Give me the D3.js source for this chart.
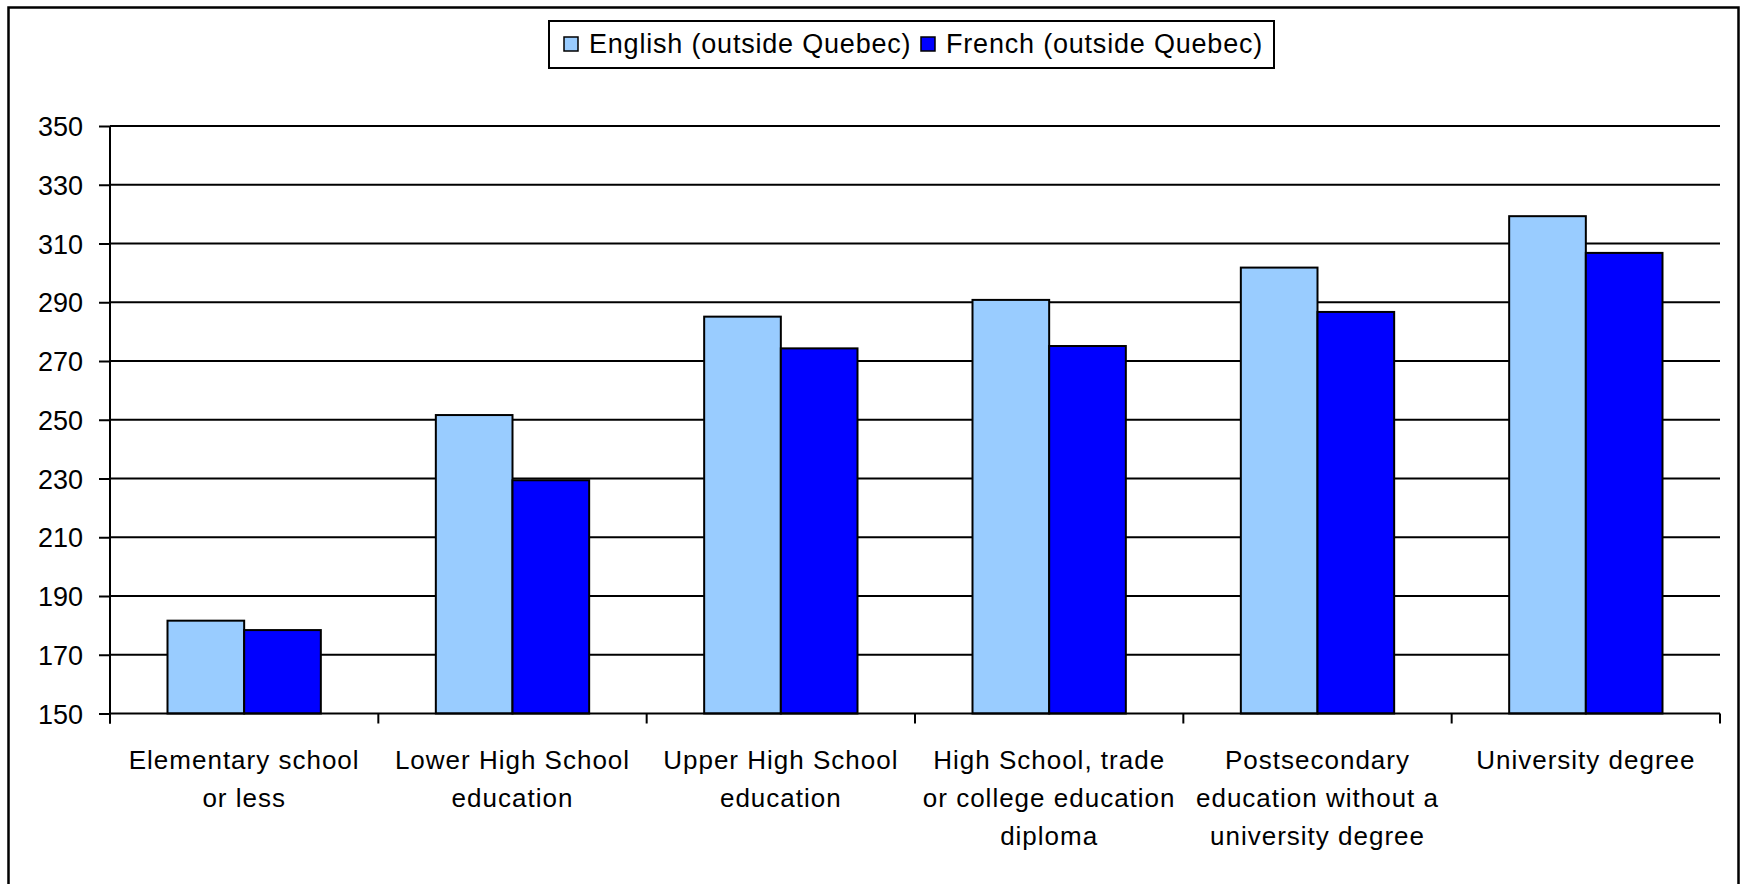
<!DOCTYPE html>
<html>
<head>
<meta charset="utf-8">
<script src="https://cdn.jsdelivr.net/npm/d3@7"></script>
<style>
  html, body { margin: 0; padding: 0; background: #fff; }
  svg { display: block; }
  text { font-family: "Liberation Sans", Arial, sans-serif; fill: #000; }
</style>
</head>
<body>
<svg id="chart" width="1740" height="884"></svg>
<script>
// Education levels (line breaks mark where the axis label wraps)
const categories = [
  "Elementary school\nor less",
  "Lower High School\neducation",
  "Upper High School\neducation",
  "High School, trade\nor college education\ndiploma",
  "Postsecondary\neducation without a\nuniversity degree",
  "University degree"
];
const seriesNames = ["English (outside Quebec)", "French (outside Quebec)"];
const englishValues = [181.6, 251.6, 285.1, 290.8, 301.8, 319.3];
const frenchValues  = [178.4, 229.4, 274.3, 275.1, 286.7, 306.8];
const seriesColors = ["#99CCFF", "#0000FF"];
const yTicks = [150, 170, 190, 210, 230, 250, 270, 290, 310, 330, 350];

const svg = d3.select("#chart");
const W = 1740, H = 884;
const plot = { left: 110, right: 1720, top: 126, bottom: 713.5 };

svg.append("rect").attr("width", W).attr("height", H).attr("fill", "#fff");

// outer chart frame (its bottom edge runs past the canvas)
svg.append("rect")
  .attr("x", 8.5).attr("y", 7.5)
  .attr("width", 1730).attr("height", 900)
  .attr("fill", "none").attr("stroke", "#000").attr("stroke-width", 2.5);

const y = d3.scaleLinear().domain([150, 350]).range([plot.bottom, plot.top]);
const x0 = d3.scaleBand().domain(categories)
  .range([plot.left, plot.right])
  .paddingInner(3 / 7).paddingOuter(1.5 / 7);
const x1 = d3.scaleBand().domain(seriesNames).range([0, x0.bandwidth()]);

// horizontal gridlines
svg.append("g").selectAll("line").data(yTicks.slice(1)).join("line")
  .attr("x1", plot.left).attr("x2", plot.right)
  .attr("y1", d => y(d)).attr("y2", d => y(d))
  .attr("stroke", "#000").attr("stroke-width", 2);

// bars
const rows = categories.map((c, i) => ({ cat: c, vals: [englishValues[i], frenchValues[i]] }));
svg.append("g").selectAll("g").data(rows).join("g")
  .attr("transform", d => `translate(${x0(d.cat)},0)`)
  .selectAll("rect")
  .data(d => d.vals.map((v, j) => ({ name: seriesNames[j], v, j })))
  .join("rect")
  .attr("x", d => x1(d.name))
  .attr("y", d => y(d.v))
  .attr("width", x1.bandwidth())
  .attr("height", d => y(150) - y(d.v))
  .attr("fill", d => seriesColors[d.j])
  .attr("stroke", "#000").attr("stroke-width", 2);

// y axis
const yAxis = svg.append("g")
  .attr("transform", `translate(${plot.left},0)`)
  .call(d3.axisLeft(y).tickValues(yTicks).tickSize(11).tickPadding(16).tickSizeOuter(0));
yAxis.select(".domain").attr("stroke", "#000").attr("stroke-width", 2)
  .attr("d", `M0,${plot.top}V${plot.bottom + 10}`);
yAxis.selectAll(".tick line").attr("stroke", "#000").attr("stroke-width", 2);
yAxis.selectAll(".tick text")
  .style("font-size", "27px").style("font-family", "'Liberation Sans', Arial, sans-serif")
  .attr("fill", "#000").attr("dy", "0.36em");

// x axis: ticks on the category boundaries
const step = x0.step();
const boundaries = d3.range(categories.length + 1).map(i => plot.left + i * step);
svg.append("line")
  .attr("x1", plot.left).attr("x2", plot.right)
  .attr("y1", plot.bottom).attr("y2", plot.bottom)
  .attr("stroke", "#000").attr("stroke-width", 2);
svg.append("g").selectAll("line").data(boundaries).join("line")
  .attr("x1", d => d).attr("x2", d => d)
  .attr("y1", plot.bottom).attr("y2", plot.bottom + 10)
  .attr("stroke", "#000").attr("stroke-width", 2);

// category labels
const labels = svg.append("g").selectAll("text").data(categories).join("text")
  .attr("x", d => x0(d) + x0.bandwidth() / 2)
  .attr("y", 769)
  .attr("text-anchor", "middle")
  .style("font-size", "26px")
  .style("letter-spacing", "1px");
labels.selectAll("tspan").data(d => d.split("\n")).join("tspan")
  .attr("x", function () { return this.parentNode.getAttribute("x"); })
  .attr("dy", (d, i) => i === 0 ? 0 : 38)
  .text(d => d);

// legend
const legend = svg.append("g");
legend.append("rect")
  .attr("x", 549).attr("y", 21).attr("width", 725).attr("height", 47)
  .attr("fill", "#fff").attr("stroke", "#000").attr("stroke-width", 2);
const legendX = [564, 921];
seriesNames.forEach((name, i) => {
  legend.append("rect")
    .attr("x", legendX[i]).attr("y", 37).attr("width", 14).attr("height", 14)
    .attr("fill", seriesColors[i]).attr("stroke", "#000").attr("stroke-width", 1.5);
  legend.append("text")
    .attr("x", legendX[i] + 25).attr("y", 53)
    .style("font-size", "27px").style("letter-spacing", "0.8px")
    .text(name);
});
</script>
</body>
</html>
